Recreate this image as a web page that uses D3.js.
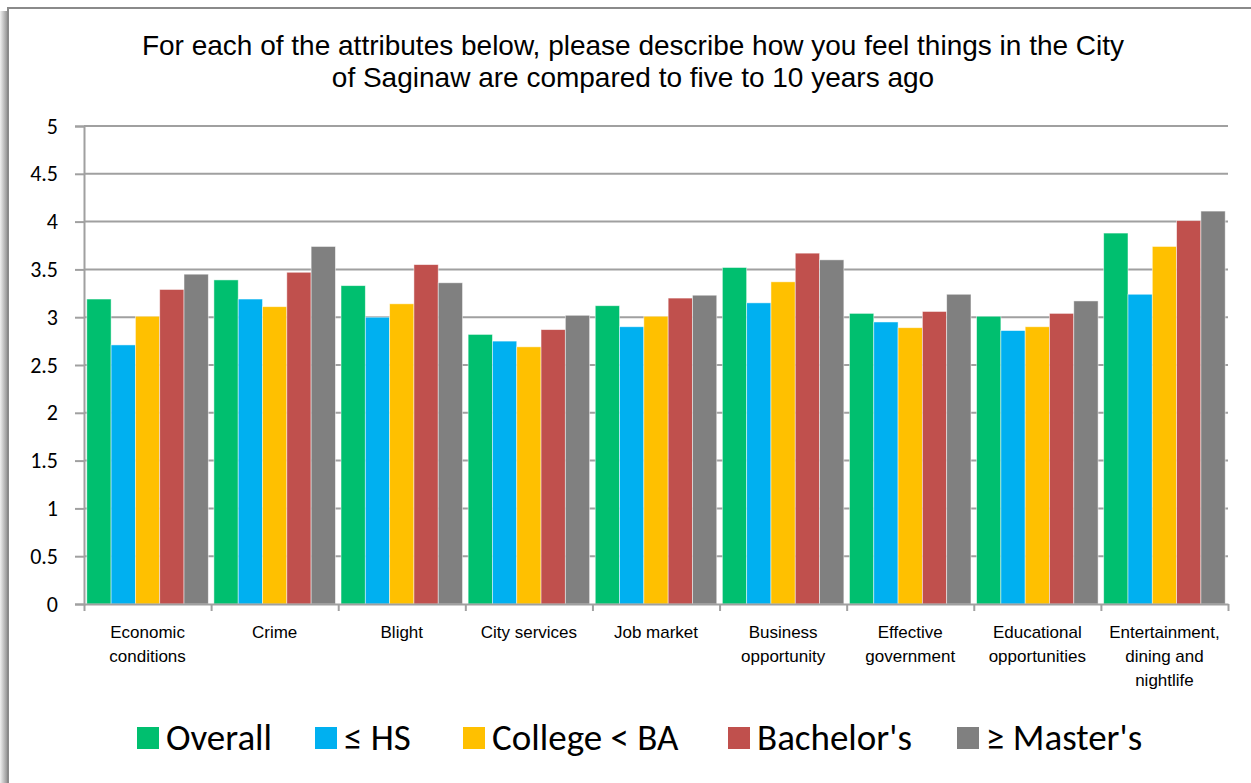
<!DOCTYPE html>
<html>
<head>
<meta charset="utf-8">
<script src="https://cdn.jsdelivr.net/npm/d3@7/dist/d3.min.js"></script>
<style>
  html, body { margin: 0; padding: 0; background: #fff; overflow: hidden; }
  svg { display: block; }
</style>
</head>
<body>
<svg id="chart" width="1251" height="783"></svg>
<script>
const categories = [
  ["Economic", "conditions"],
  ["Crime"],
  ["Blight"],
  ["City services"],
  ["Job market"],
  ["Business", "opportunity"],
  ["Effective", "government"],
  ["Educational", "opportunities"],
  ["Entertainment,", "dining and", "nightlife"]
];
const seriesNames = ["Overall", "\u2264 HS", "College < BA", "Bachelor's", "\u2265 Master's"];
const seriesColors = ["#00BF6F", "#00B0F0", "#FFC000", "#C0504D", "#808080"];
const overall   = [3.19, 3.39, 3.33, 2.82, 3.12, 3.52, 3.04, 3.01, 3.88];
const hs        = [2.71, 3.19, 3.00, 2.75, 2.90, 3.15, 2.95, 2.86, 3.24];
const college   = [3.01, 3.11, 3.14, 2.69, 3.01, 3.37, 2.89, 2.90, 3.74];
const bachelors = [3.29, 3.47, 3.55, 2.87, 3.20, 3.67, 3.06, 3.04, 4.01];
const masters   = [3.45, 3.74, 3.36, 3.02, 3.23, 3.60, 3.24, 3.17, 4.11];
const yTicks = [0, 0.5, 1, 1.5, 2, 2.5, 3, 3.5, 4, 4.5, 5];
const titleLines = [
  "For each of the attributes below, please describe how you feel things in the City",
  "of Saginaw are compared to five to 10 years ago"
];

(function () {
const seriesValues = [overall, hs, college, bachelors, masters];
const svg = d3.select("#chart");
const W = 1251, H = 783;
const pLeft = 84, pRight = 1228, pTop = 126, pBottom = 604;

// frame with left shadow
const defs = svg.append("defs");
const grad = defs.append("linearGradient").attr("id", "shadow").attr("x1", "0").attr("x2", "1").attr("y1", "0").attr("y2", "0");
grad.append("stop").attr("offset", "0").attr("stop-color", "#f0f0f0");
grad.append("stop").attr("offset", "1").attr("stop-color", "#8c8c8c");
svg.append("rect").attr("x", 0).attr("y", 11).attr("width", 8).attr("height", H - 11).attr("fill", "url(#shadow)");
svg.append("rect").attr("x", 8).attr("y", 8).attr("width", W + 20).attr("height", H + 20)
  .attr("fill", "#fff").attr("stroke", "#8a8a8a").attr("stroke-width", 2);

// title
svg.append("g").selectAll("text").data(titleLines).join("text")
  .attr("x", 633).attr("y", (d, i) => 55 + i * 32)
  .attr("text-anchor", "middle")
  .attr("font-family", "Liberation Sans, Arial, sans-serif")
  .attr("font-size", 28).attr("fill", "#000")
  .text(d => d);

const y = d3.scaleLinear().domain([0, 5]).range([pBottom, pTop]);
const x0 = d3.scaleBand().domain(d3.range(categories.length)).range([pLeft, pRight])
  .paddingInner(0.044).paddingOuter(0.022);
const x1 = d3.scaleBand().domain(d3.range(seriesNames.length)).range([0, x0.bandwidth()]);
const xb = d3.scaleLinear().domain([0, categories.length]).range([pLeft, pRight]);

// gridlines
svg.append("g").selectAll("line").data(yTicks.filter(t => t > 0)).join("line")
  .attr("x1", pLeft).attr("x2", pRight)
  .attr("y1", d => y(d)).attr("y2", d => y(d))
  .attr("stroke", "#a0a0a0").attr("stroke-width", 2);

// bars
const groups = svg.append("g").selectAll("g").data(categories).join("g")
  .attr("transform", (d, i) => `translate(${x0(i)},0)`);
groups.selectAll("rect")
  .data((d, i) => seriesValues.map((vals, s) => ({ s, v: vals[i] })))
  .join("rect")
  .attr("x", d => x1(d.s)).attr("width", x1.bandwidth())
  .attr("y", d => y(d.v)).attr("height", d => pBottom - y(d.v))
  .attr("fill", d => seriesColors[d.s])
  .attr("stroke", "rgba(255,255,255,0.6)").attr("stroke-width", 0.8);

// y axis
const yAxis = svg.append("g").attr("transform", `translate(${pLeft},0)`)
  .call(d3.axisLeft(y).tickValues(yTicks).tickSize(9).tickPadding(17).tickFormat(d3.format("")));
yAxis.select(".domain").attr("stroke", "#a0a0a0").attr("stroke-width", 2);
yAxis.selectAll(".tick line").attr("stroke", "#a0a0a0").attr("stroke-width", 2);
yAxis.selectAll(".tick text").attr("font-family", "Carlito, Lato, sans-serif").attr("font-size", 22).attr("fill", "#000");

// x axis (boundary ticks)
const xAxis = svg.append("g").attr("transform", `translate(0,${pBottom})`)
  .call(d3.axisBottom(xb).tickValues(d3.range(categories.length + 1)).tickSize(7).tickSizeOuter(0).tickFormat(""));
xAxis.select(".domain").attr("stroke", "#a0a0a0").attr("stroke-width", 2);
xAxis.selectAll(".tick line").attr("stroke", "#a0a0a0").attr("stroke-width", 2);

// category labels
const catLabels = svg.append("g").selectAll("text").data(categories).join("text")
  .attr("text-anchor", "middle")
  .attr("font-family", "Liberation Sans, Arial, sans-serif")
  .attr("font-size", 17).attr("fill", "#000")
  .attr("transform", (d, i) => `translate(${x0(i) + x0.bandwidth() / 2},638)`);
catLabels.selectAll("tspan").data(d => d).join("tspan")
  .attr("x", 0).attr("dy", (d, i) => i === 0 ? 0 : 24)
  .text(d => d);

// legend
const legendX = [137, 315, 463, 728, 957];
const lg = svg.append("g").selectAll("g").data(seriesNames).join("g")
  .attr("transform", (d, i) => `translate(${legendX[i]},727)`);
lg.append("rect").attr("width", 22).attr("height", 22).attr("fill", (d, i) => seriesColors[i]);
lg.append("text").attr("x", 29).attr("y", 23)
  .attr("font-family", "Carlito, Lato, sans-serif").attr("font-size", 37).attr("fill", "#000")
  .text(d => d);
})();
</script>
</body>
</html>
